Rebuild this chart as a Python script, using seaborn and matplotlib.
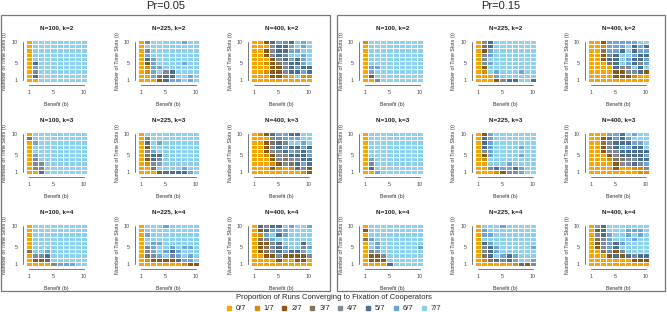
import numpy as np
import pandas as pd
import matplotlib
matplotlib.use("Agg")
import matplotlib.pyplot as plt
from matplotlib.colors import ListedColormap
from matplotlib.lines import Line2D
from matplotlib.patches import Rectangle
import seaborn as sns

# benefit b = 1..10 (columns), time slots t = 10..1 (rows, top to bottom)
benefit = list(range(1, 11))
time_slots = list(range(10, 0, -1))
levels = ["0/7", "1/7", "2/7", "3/7", "4/7", "5/7", "6/7", "7/7"]
colors = ["#FBA400", "#D98E0A", "#8A5A17", "#86735E", "#7E8A97",
          "#4C6E90", "#6DA5D8", "#8DD0EE"]

# each string: number of runs (out of 7) fixing on cooperation, b=1..10
p05_n100_k2 = ["0777777777", "0777777777", "0777777777", "0777777777", "0777777777",
               "0577777777", "0677777777", "0477777777", "0577777777", "0077777777"]
p05_n225_k2 = ["0477777677", "0777777777", "0477777777", "0677777777", "0567777777",
               "0267777677", "0166777777", "0167457777", "0063557767", "0002566767"]
p05_n400_k2 = ["0025645767", "0004556767", "0024556677", "0024547767", "0002456567",
               "0012345567", "0002245655", "0012245565", "0002210711", "0000000000"]
p05_n100_k3 = ["0777777777", "3777777777", "0677777777", "0777777777", "0777777777",
               "0677777777", "0477777777", "0447777777", "0447777777", "0057777777"]
p05_n225_k3 = ["0777777777", "0477777777", "0576777777", "0277777777", "0467777777",
               "0355777777", "0254777777", "0146777777", "0037777677", "0002555567"]
p05_n400_k3 = ["0125665577", "0004466677", "0023547767", "0024565565", "0024456456",
               "0012445556", "0002434455", "0001243565", "0002101542", "0000000012"]
p05_n100_k4 = ["0777777777", "0777777777", "0777777777", "0777777777", "0777777777",
               "0777777777", "3776777777", "0445777777", "0225777777", "0000466677"]
p05_n225_k4 = ["0777677777", "0777777777", "0677777777", "0777777777", "0766777777",
               "0467767667", "0467656777", "0346746767", "0122225667", "0000000122"]
p05_n400_k4 = ["0545576776", "0256667777", "0167567777", "0346777777", "0224577757",
               "0234567746", "0234565567", "0022422224", "0000200220", "0000000000"]

p15_n100_k2 = ["1777777777", "0777777777", "0777777777", "0777777777", "0777777777",
               "0777777777", "0667777777", "0677777777", "0277777777", "0047777777"]
p15_n225_k2 = ["0457777777", "0357777777", "0267777777", "0467777777", "0477777777",
               "0467777777", "0277777777", "0176777677", "0006777777", "0002455775"]
p15_n400_k2 = ["0026666677", "0016667565", "0036657566", "0024577655", "0025576556",
               "0003576546", "0000544757", "0000224452", "0000222100", "0000000000"]
p15_n100_k3 = ["0777777777", "0777777777", "0777777777", "0777777777", "0777777777",
               "0777777777", "0677777777", "0477777777", "0577777777", "0067777777"]
p15_n225_k3 = ["0267777777", "0567777777", "0567777777", "0567777677", "0467777777",
               "0267777677", "0177777777", "0077767777", "0045665677", "0001244677"]
p15_n400_k3 = ["0006657677", "0025656777", "0034555667", "0024566557", "0024455555",
               "0002455556", "0001334455", "0000244546", "0000200114", "0000000011"]
p15_n100_k4 = ["0777777777", "2777777777", "0777777777", "3677777777", "0767777777",
               "0767777776", "0467777777", "0224777777", "0222777777", "0000577777"]
p15_n225_k4 = ["0777677777", "0677777777", "0667777777", "0777777777", "0567777777",
               "0456777776", "0456777777", "0357656777", "0135456776", "0000001524"]
p15_n400_k4 = ["0657777777", "0257776667", "0456776767", "0346777677", "0246567777",
               "0246577777", "0034247777", "0002525455", "0000000222", "0000000000"]

groups = [
    ("Pr=0.05", [[p05_n100_k2, p05_n225_k2, p05_n400_k2],
                 [p05_n100_k3, p05_n225_k3, p05_n400_k3],
                 [p05_n100_k4, p05_n225_k4, p05_n400_k4]]),
    ("Pr=0.15", [[p15_n100_k2, p15_n225_k2, p15_n400_k2],
                 [p15_n100_k3, p15_n225_k3, p15_n400_k3],
                 [p15_n100_k4, p15_n225_k4, p15_n400_k4]]),
]
n_values = [100, 225, 400]
k_values = [2, 3, 4]

W, H = 667, 312
sns.set_theme(style="white")
plt.rcParams["font.family"] = ["Liberation Sans", "DejaVu Sans"]
fig = plt.figure(figsize=(W / 100, H / 100), dpi=100)


def px_box(x, y, w, h):
    return [x / W, 1 - (y + h) / H, w / W, h / H]


cmap = ListedColormap(colors)
group_x = [[26, 138, 251], [362, 475, 588]]
row_y = [40, 132, 224]
frame_x = [(1, 330), (337, 665)]
frame_top, frame_bottom = 15, 291

for gi, (gtitle, grid) in enumerate(groups):
    fx0, fx1 = frame_x[gi]
    fig.patches.append(Rectangle((fx0 / W, 1 - frame_bottom / H), (fx1 - fx0) / W,
                                 (frame_bottom - frame_top) / H,
                                 transform=fig.transFigure, fill=False,
                                 edgecolor="#777777", linewidth=0.9))
    fig.text((fx0 + fx1) / 2 / W, 1 - 6 / H, gtitle, ha="center", va="center", fontsize=8)
    for ri, k in enumerate(k_values):
        for ci, n in enumerate(n_values):
            rows = grid[ri][ci]
            vals = np.array([[int(c) for c in r] for r in rows])
            df = pd.DataFrame(vals, index=time_slots, columns=benefit)
            ax = fig.add_axes(px_box(group_x[gi][ci], row_y[ri], 61, 42))
            sns.heatmap(df, ax=ax, cmap=cmap, vmin=-0.5, vmax=7.5, cbar=False,
                        linewidths=0.5, linecolor="white")
            ax.set_title("N=%d, k=%d" % (n, k), fontsize=4.6, fontweight="bold", pad=7.5,
                         color="#222222")
            ax.set_xticks([0.5, 4.5, 9.5])
            ax.set_xticklabels(["1", "5", "10"], rotation=0)
            ax.set_yticks([0.5, 5.5, 9.5])
            ax.set_yticklabels(["10", "5", "1"], rotation=0)
            ax.tick_params(axis="both", labelsize=3.8, length=2, width=0.5, pad=2,
                           colors="#444444")
            for side in ["left", "bottom"]:
                sp = ax.spines[side]
                sp.set_visible(True)
                sp.set_linewidth(0.5)
                sp.set_color("#444444")
                sp.set_position(("outward", 2))
                sp.set_bounds(0.5, 9.5)
            ax.set_xlabel("Benefit (b)", fontsize=3.8, labelpad=5, color="#333333")
            ax.set_ylabel("Number of Time Slots (t)", fontsize=3.8, labelpad=3,
                          color="#333333")

handles = [Line2D([0], [0], marker="s", linestyle="", markersize=3,
                  markerfacecolor=c, markeredgecolor=c) for c in colors]
leg = fig.legend(handles, levels, loc="center", bbox_to_anchor=(0.5, 1 - 303 / H),
                 ncol=8, frameon=False, fontsize=5.5, handlelength=0.8,
                 handletextpad=0.5, columnspacing=0.95, borderpad=0.1,
                 title="Proportion of Runs Converging to Fixation of Cooperators",
                 title_fontsize=5.5)
leg._legend_box.sep = 3

fig.savefig("out.png", dpi=100)
